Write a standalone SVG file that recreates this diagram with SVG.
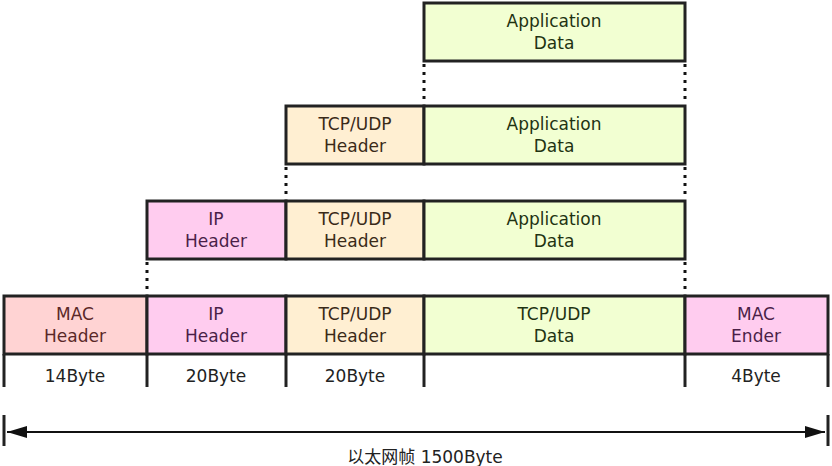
<svg xmlns="http://www.w3.org/2000/svg" width="832" height="466" viewBox="0 0 832 466">
<style>
.box{stroke:#222;stroke-width:3}
.mac{fill:#ffd3d3}
.ip{fill:#ffccef}
.tcp{fill:#ffefd2}
.app{fill:#f2ffd2}
.dot{stroke:#111;stroke-width:3;stroke-dasharray:3 5;fill:none}
.tick{stroke:#222;stroke-width:3;fill:none}
text{font-family:"DejaVu Sans","Noto Sans CJK SC",sans-serif;font-size:17px;text-anchor:middle}
.tmac{fill:#5a2828}
.tip{fill:#4a1f48}
.ttcp{fill:#3a2a18}
.tapp{fill:#1f3312}
.tlab{fill:#222}
</style>
<defs>
<marker id="ah" viewBox="0 0 20 12" refX="20" refY="6" markerWidth="20" markerHeight="12" markerUnits="userSpaceOnUse" orient="auto-start-reverse">
<path d="M0 0 L20 6 L0 12 Z" fill="#111"/>
</marker>
</defs>
<rect width="832" height="466" fill="#fff"/>
<g id="connectors">
<line class="dot" x1="424" y1="64" x2="424" y2="104"/>
<line class="dot" x1="685" y1="64" x2="685" y2="104"/>
<line class="dot" x1="286" y1="167" x2="286" y2="199"/>
<line class="dot" x1="685" y1="167" x2="685" y2="199"/>
<line class="dot" x1="147" y1="262" x2="147" y2="294"/>
<line class="dot" x1="685" y1="262" x2="685" y2="294"/>
<line class="tick" x1="4" y1="354" x2="4" y2="387"/>
<line class="tick" x1="147" y1="354" x2="147" y2="387"/>
<line class="tick" x1="286" y1="354" x2="286" y2="387"/>
<line class="tick" x1="424" y1="354" x2="424" y2="387"/>
<line class="tick" x1="685" y1="354" x2="685" y2="387"/>
<line class="tick" x1="828" y1="354" x2="828" y2="387"/>
<line class="tick" x1="4" y1="415" x2="4" y2="446"/>
<line class="tick" x1="828" y1="415" x2="828" y2="446"/>
<line x1="7" y1="432" x2="825" y2="432" stroke="#111" stroke-width="2" marker-start="url(#ah)" marker-end="url(#ah)"/>
</g>
<g id="row1-app">
<rect class="box app" x="424" y="3" width="261" height="58"/>
<text class="tapp" x="554" y="27">Application</text>
<text class="tapp" x="554" y="49">Data</text>
</g>
<g id="row2-tcp">
<rect class="box tcp" x="286" y="106" width="138" height="58"/>
<text class="ttcp" x="355" y="130">TCP/UDP</text>
<text class="ttcp" x="355" y="152">Header</text>
</g>
<g id="row2-app">
<rect class="box app" x="424" y="106" width="261" height="58"/>
<text class="tapp" x="554" y="130">Application</text>
<text class="tapp" x="554" y="152">Data</text>
</g>
<g id="row3-ip">
<rect class="box ip" x="147" y="201" width="139" height="58"/>
<text class="tip" x="216" y="225">IP</text>
<text class="tip" x="216" y="247">Header</text>
</g>
<g id="row3-tcp">
<rect class="box tcp" x="286" y="201" width="138" height="58"/>
<text class="ttcp" x="355" y="225">TCP/UDP</text>
<text class="ttcp" x="355" y="247">Header</text>
</g>
<g id="row3-app">
<rect class="box app" x="424" y="201" width="261" height="58"/>
<text class="tapp" x="554" y="225">Application</text>
<text class="tapp" x="554" y="247">Data</text>
</g>
<g id="row4-mac">
<rect class="box mac" x="4" y="296" width="143" height="58"/>
<text class="tmac" x="75" y="320">MAC</text>
<text class="tmac" x="75" y="342">Header</text>
</g>
<g id="row4-ip">
<rect class="box ip" x="147" y="296" width="139" height="58"/>
<text class="tip" x="216" y="320">IP</text>
<text class="tip" x="216" y="342">Header</text>
</g>
<g id="row4-tcp">
<rect class="box tcp" x="286" y="296" width="138" height="58"/>
<text class="ttcp" x="355" y="320">TCP/UDP</text>
<text class="ttcp" x="355" y="342">Header</text>
</g>
<g id="row4-data">
<rect class="box app" x="424" y="296" width="261" height="58"/>
<text class="tapp" x="554" y="320">TCP/UDP</text>
<text class="tapp" x="554" y="342">Data</text>
</g>
<g id="row4-ender">
<rect class="box ip" x="685" y="296" width="143" height="58"/>
<text class="tip" x="756" y="320">MAC</text>
<text class="tip" x="756" y="342">Ender</text>
</g>
<g id="labels">
<text class="tlab" x="75" y="382">14Byte</text>
<text class="tlab" x="216" y="382">20Byte</text>
<text class="tlab" x="355" y="382">20Byte</text>
<text class="tlab" x="756" y="382">4Byte</text>
<text class="tlab" x="425" y="463">以太网帧 1500Byte</text>
</g>
</svg>
